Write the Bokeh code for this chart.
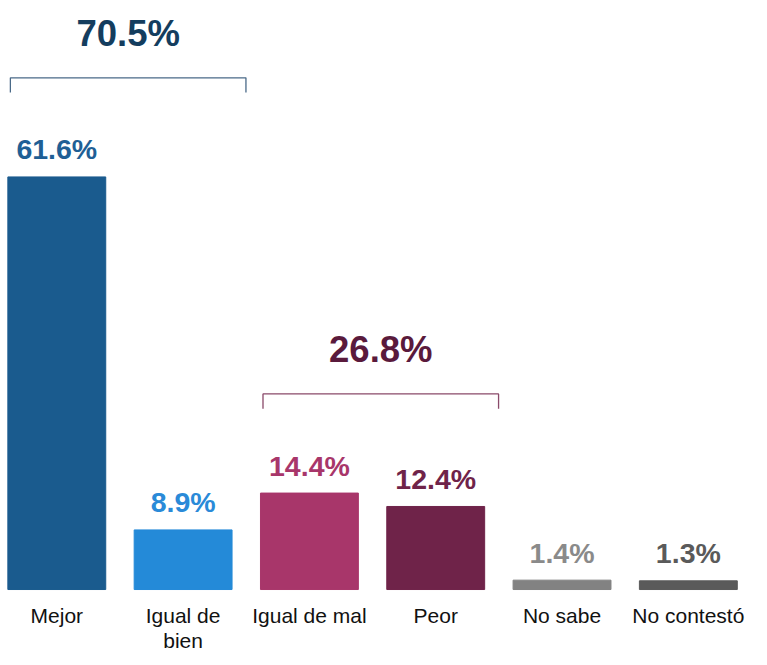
from bokeh.plotting import figure
from bokeh.models import Range1d, ColumnDataSource
from bokeh.core.properties import value
from bokeh.embed import file_html
from bokeh.resources import INLINE

categories = ["Mejor", "Igual de\nbien", "Igual de mal", "Peor", "No sabe", "No contestó"]
values = [61.6, 8.9, 14.4, 12.4, 1.4, 1.3]
labels = ["61.6%", "8.9%", "14.4%", "12.4%", "1.4%", "1.3%"]
bar_colors = ["#1A5B8E", "#248AD8", "#A8366A", "#6F2349", "#828282", "#5A5A5A"]
label_colors = ["#1F5F95", "#2A8AD8", "#A8366A", "#6F2349", "#8A8A8A", "#5A5A5A"]

group_members = [[0, 1], [2, 3]]
group_totals = ["70.5%", "26.8%"]
group_text_colors = ["#143D5E", "#5A1A3C"]
group_line_colors = ["#4A6A88", "#8A4A6A"]

FONT = value("Liberation Sans")
bar_w = 0.775

p = figure(width=751, height=655, output_backend="svg", toolbar_location=None,
           x_range=Range1d(-0.4457, 5.5), y_range=Range1d(-9.85, 87.94),
           min_border=0, min_border_left=0, min_border_right=0,
           min_border_top=0, min_border_bottom=0)
p.xaxis.visible = False
p.yaxis.visible = False
p.grid.visible = False
p.outline_line_color = None
p.background_fill_color = "white"

xs = list(range(len(values)))
src = ColumnDataSource(dict(x=xs, top=values, color=bar_colors, lab=labels,
                            lcolor=label_colors, cat=categories,
                            zero=[0] * len(values)))

p.vbar(x="x", top="top", bottom=0, width=bar_w, color="color", source=src)

p.text(x="x", y="top", text="lab", text_color="lcolor", source=src,
       text_font=FONT, text_font_style="bold", text_font_size="28.5px",
       text_align="center", text_baseline="middle", y_offset=-27.5)

p.text(x="x", y="zero", text="cat", source=src, text_color="#111111",
       text_font=FONT, text_font_size="21px", text_align="center",
       text_baseline="top", y_offset=14, text_line_height=1.1)

for members, total, tcol, lcol in zip(group_members, group_totals,
                                      group_text_colors, group_line_colors):
    left = min(members) - bar_w / 2 + 0.02
    right = max(members) + bar_w / 2 + 0.11
    gmax = max(values[i] for i in members)
    yb = gmax + 14.8
    drop = 2.2
    p.line(x=[left, left, right, right], y=[yb - drop, yb, yb, yb - drop],
           line_color=lcol, line_width=1.3)
    p.text(x=[(left + right) / 2], y=[yb], text=[total], text_color=tcol,
           text_font=FONT, text_font_style="bold", text_font_size="36.5px",
           text_align="center", text_baseline="middle", y_offset=-44)

open("out.html", "w").write(file_html(p, INLINE))
